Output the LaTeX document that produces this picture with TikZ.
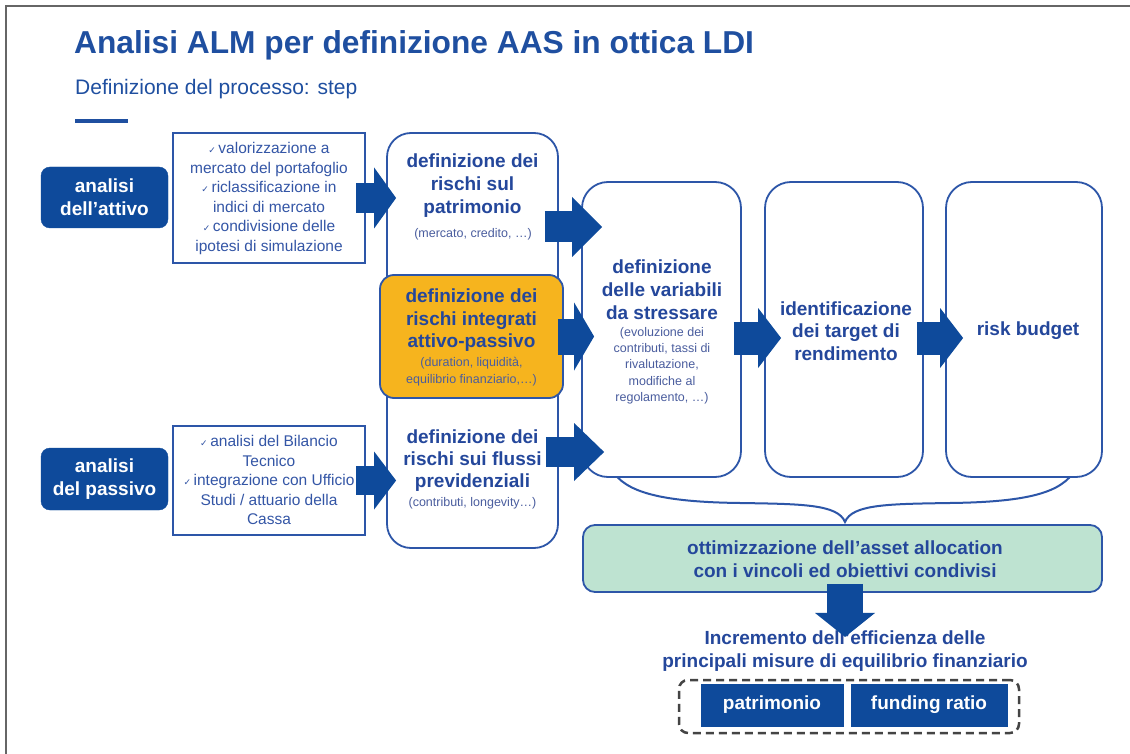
\documentclass[tikz,border=0pt]{standalone}
\usepackage{fontspec}
\setmainfont{Liberation Sans}
\newfontfamily\dejavu{DejaVu Sans}
\usetikzlibrary{arrows.meta}
\definecolor{navy}{HTML}{0E4A9B}
\definecolor{tblue}{HTML}{24479B}
\definecolor{lblue}{HTML}{3456A6}
\definecolor{sblue}{HTML}{4A5D9E}
\definecolor{bblue}{HTML}{2D56A8}
\definecolor{yel}{HTML}{F6B41E}
\definecolor{mint}{HTML}{BEE3D1}
\definecolor{ttl}{HTML}{1F4FA0}
\definecolor{frm}{HTML}{666666}
\definecolor{dsh}{HTML}{444444}
\newcommand{\ck}{{\dejavu\fontsize{9}{9}\selectfont ✓}\,}
\newcommand{\bfs}{\fontsize{19}{23}\selectfont\bfseries}
\newcommand{\sms}{\fontsize{12.5}{16.5}\selectfont}
\newcommand{\cks}{\fontsize{15.5}{19.5}\selectfont}
\begin{document}
\begin{tikzpicture}[x=1pt,y=-1pt,
  solidbox/.style={fill=navy, draw=navy, text=white, inner sep=0pt, font=\bfs, align=center},
  chkbox/.style={draw=bblue, line width=2pt, fill=white, inner sep=0pt},
  panel/.style={draw=bblue, line width=1.8pt, fill=white, inner sep=0pt},
  lbl/.style={text=tblue, align=center, font=\bfs, inner sep=0pt},
  small/.style={text=sblue, align=center, font=\sms, inner sep=0pt},
  chktxt/.style={text=lblue, align=center, font=\cks, inner sep=0pt},
  fat/.style n args={3}{draw=navy, line width=#1, -{Triangle[width=#2,length=#3,line width=0pt]}}
]
\useasboundingbox (0,0) rectangle (1130,754);
\fill[white] (0,0) rectangle (1130,754);
% frame
\draw[frm, line width=1.2pt] (6,754) -- (6,6) -- (1130,6);
% title
\node[anchor=base west, inner sep=0pt, text=ttl, font=\fontsize{31.7}{32}\selectfont\bfseries] (title) at (74,54) {Analisi ALM per definizione AAS in ottica LDI};
\node[anchor=base west, inner sep=0pt, text=ttl, font=\fontsize{21}{21}\selectfont] (sub) at (75,95) {Definizione del processo: step};
\fill[ttl] (75,119) rectangle (128,123);

% left boxes
\node[solidbox, rounded corners=9pt, minimum width=127pt, minimum height=61pt] (att) at (104.5,197.5) {analisi\\dell'attivo};
\node[solidbox, rounded corners=9pt, minimum width=127pt, minimum height=62pt] (pas) at (104.5,479) {analisi\\del passivo};
\node[chkbox, minimum width=192pt, minimum height=130pt] (chk1) at (269,198) {};
\node[chktxt] (chk1t) at (269,198.5) {\ck valorizzazione a\\mercato del portafoglio\\\ck riclassificazione in\\indici di mercato\\\ck condivisione delle\\ipotesi di simulazione};
\node[chkbox, minimum width=192pt, minimum height=109pt] (chk2) at (269,480.5) {};
\node[chktxt] (chk2t) at (269,480) {\ck analisi del Bilancio\\Tecnico\\\ck integrazione con Ufficio\\Studi / attuario della\\Cassa};

% brace
\coordinate (bl) at (612,470);
\coordinate (bt) at (845,522);
\coordinate (br) at (1075,470);
\draw[bblue, line width=2pt] (bl) .. controls (625,492) and (660,502) .. (740,503)
  .. controls (800,504) and (838,504) .. (bt)
  .. controls (852,504) and (890,504) .. (950,503)
  .. controls (1030,502) and (1062,492) .. (br);

% column
\node[panel, rounded corners=24pt, minimum width=171pt, minimum height=415pt] (col) at (472.5,340.5) {};
\node[lbl] (patr) at (472.5,186) {definizione dei\\rischi sul\\patrimonio};
\node[small] (patrs) at (473,234) {(mercato, credito, …)};
\node[panel, fill=yel, rounded corners=14pt, minimum width=183pt, minimum height=123pt] (yelb) at (471.5,336.5) {};
\node[lbl, font=\fontsize{19}{22.5}\selectfont\bfseries] (yelt) at (471.5,320.5) {definizione dei\\rischi integrati\\attivo-passivo};
\node[small, font=\fontsize{12.5}{17}\selectfont] (yels) at (471.5,371.5) {(duration, liquidità,\\equilibrio finanziario,…)};
\node[lbl, font=\fontsize{19}{22}\selectfont\bfseries] (flu) at (472.5,461) {definizione dei\\rischi sui flussi\\previdenziali};
\node[small] (flus) at (472.5,503) {(contributi, longevity…)};

% big boxes
\node[panel, rounded corners=26pt, minimum width=159pt, minimum height=295pt] (var) at (661.5,329.5) {};
\node[lbl] (vart) at (662,290) {definizione\\delle variabili\\da stressare};
\node[small, font=\fontsize{12.5}{16.3}\selectfont] (vars) at (662,365.5) {(evoluzione dei\\contributi, tassi di\\rivalutazione,\\modifiche al\\regolamento, …)};
\node[panel, rounded corners=26pt, minimum width=158pt, minimum height=295pt] (idn) at (844,329.5) {};
\node[lbl, font=\fontsize{19}{22.5}\selectfont\bfseries] (idnt) at (846,331) {identificazione\\dei target di\\rendimento};
\node[panel, rounded corners=26pt, minimum width=156pt, minimum height=295pt] (rsk) at (1024,329.5) {};
\node[lbl] (rskt) at (1028,331) {risk budget};

% green box
\node[panel, fill=mint, rounded corners=12pt, minimum width=519pt, minimum height=67pt] (grn) at (842.5,558.5) {};
\node[lbl, font=\fontsize{19}{22.5}\selectfont\bfseries] (grnt) at (845,559) {ottimizzazione dell’asset allocation\\con i vincoli ed obiettivi condivisi};

% result
\node[lbl] (inc) at (845,651.5) {Incremento dell’efficienza delle\\principali misure di equilibrio finanziario};
\node[draw=dsh, line width=2.5pt, dash pattern=on 8pt off 5pt, rounded corners=9pt, minimum width=340pt, minimum height=53pt, inner sep=0pt] (dsb) at (849,706.5) {};
\node[solidbox, minimum width=142pt, minimum height=42pt] (pat) at (772,705) {patrimonio};
\node[solidbox, minimum width=156pt, minimum height=42pt] (fun) at (929,705) {funding ratio};

% rows for arrows
\coordinate (row1) at (0,227);
\coordinate (row2) at (0,338);
\coordinate (row3) at (0,452);

% fat arrows
\draw[fat={30pt}{61pt}{22pt}] ([xshift=-10pt]chk1.east) -- ([xshift=10pt]col.west |- chk1.east);
\draw[fat={29pt}{58pt}{22pt}] ([xshift=-10pt]chk2.east) -- ([xshift=10pt]col.west |- chk2.east);
\draw[fat={31pt}{60pt}{30pt}] ([xshift=-14pt]col.east |- row1) -- ([xshift=21pt]var.west |- row1);
\draw[fat={36pt}{68pt}{20pt}] ([xshift=-6pt]yelb.east) -- ([xshift=13pt]var.west |- yelb.east);
\draw[fat={30pt}{58pt}{30pt}] ([xshift=-13pt]col.east |- row3) -- ([xshift=23pt]var.west |- row3);
\draw[fat={33pt}{60pt}{23pt}] ([xshift=-8pt]var.east |- row2) -- ([xshift=17pt]idn.west |- row2);
\draw[fat={33pt}{60pt}{23pt}] ([xshift=-7pt]idn.east |- row2) -- ([xshift=18pt]rsk.west |- row2);
\draw[fat={36pt}{60pt}{24pt}] ([yshift=9pt]grn.south -| inc.north) -- ([yshift=-6pt]inc.north);
\end{tikzpicture}
\end{document}
